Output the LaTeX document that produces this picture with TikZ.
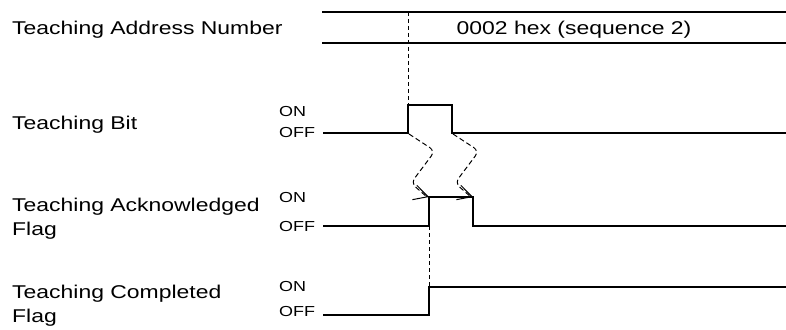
\documentclass[tikz,border=0pt]{standalone}
\usepackage{fontspec}
\setmainfont[FakeStretch=1.24]{Liberation Sans}
\usetikzlibrary{arrows.meta, calc}

\tikzset{
  sig/.style={line width=2pt},
  guide/.style={line width=1pt, dash pattern=on 4pt off 3pt},
  flow/.style={line width=1pt, dash pattern=on 5pt off 3pt, rounded corners=6pt},
  tip/.style={line width=1pt, -{Straight Barb[length=14pt,width=15pt]}},
  lbl/.style={font=\fontsize{18.5}{24}\selectfont, inner sep=0pt, anchor=base west, align=left},
  lvl/.style={font=\fontsize{14.5}{15}\selectfont, inner sep=0pt, anchor=west},
}

\begin{document}
\begin{tikzpicture}[x=1pt, y=-1pt]
  \useasboundingbox (0,0) rectangle (786,329);
  % --- signal names (base = last line) ---
  \node[lbl] (addrName) at (12,35) {Teaching Address Number};
  \node[lbl] (bitName) at (12,129) {Teaching Bit};
  \node[lbl] (ackName) at (12,235) {Teaching Acknowledged\\Flag};
  \node[lbl] (cmpName) at (12,322) {Teaching Completed\\Flag};
  % --- levels ---
  \node[lvl] (bitOn) at (279,112) {ON};
  \node[lvl] (bitOff) at (279,133) {OFF};
  \node[lvl] (ackOn) at (279,198) {ON};
  \node[lvl] (ackOff) at (279,227) {OFF};
  \node[lvl] (cmpOn) at (279,287) {ON};
  \node[lvl] (cmpOff) at (279,312) {OFF};
  % --- edges ---
  \coordinate (addrTop) at (408,12);
  \coordinate (bitR) at (408,133);
  \coordinate (bitT) at (408,105);
  \coordinate (bitF) at (452,133);
  \coordinate (ackB) at (429,226);
  \coordinate (ackR) at (429,197);
  \coordinate (ackF) at (473,197);
  \coordinate (cmpR) at (429,287);
  % Address number
  \draw[sig] (322,12) -- (786,12);
  \draw[sig] (322,43) -- (786,43);
  \node[font=\fontsize{18.5}{20}\selectfont, inner sep=0pt, anchor=base] (addrVal) at (574,35) {0002 hex (sequence 2)};
  % Teaching bit
  \draw[sig] (323,133) -- (bitR) -- (bitT) -- (452,105) -- (bitF) -- (786,133);
  % Acknowledged flag
  \draw[sig] (323,226) -- (ackB) -- (ackR) -- (ackF) -- (473,226) -- (786,226);
  % Completed flag
  \draw[sig] (323,315) -- (429,315) -- (cmpR) -- (786,287);
  % guides
  \draw[guide] (addrTop) -- (bitT);
  \draw[guide] (ackB) -- (cmpR);
  % handshakes
  \draw[flow] ($(bitR)+(1,1)$) -- ++(26,17) -- ++(-24,32) -- ($(ackR)+(-3.2,-1)$);
  \draw[tip] ($(ackR)+(-3.2,-1)$) -- (ackR);
  \draw[flow] ($(bitF)+(1,1)$) -- ++(26,17) -- ++(-24,32) -- ($(ackF)+(-3.2,-1)$);
  \draw[tip] ($(ackF)+(-3.2,-1)$) -- (ackF);
\end{tikzpicture}
\end{document}
